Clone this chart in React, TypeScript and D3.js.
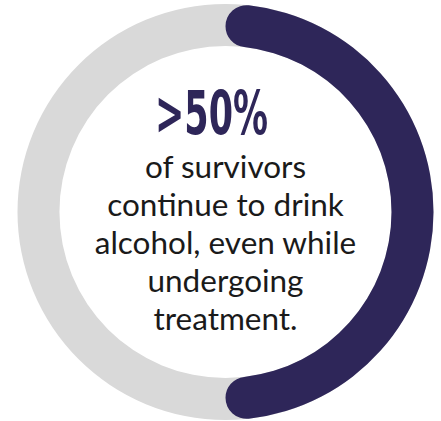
import React from "react";
import * as d3 from "d3";

const share = [0.5];
const headline = [">50%"];
const bodyLines = ["of survivors", "continue to drink", "alcohol, even while", "undergoing", "treatment."];

const W = 441;
const H = 421;

export default function App() {
  const cx = 225.5;
  const cy = 212;
  const outer = 208;
  const inner = 166;
  const angle = d3.scaleLinear().domain([0, 1]).range([0, 2 * Math.PI]);
  const bg = d3.arc<any>().innerRadius(inner).outerRadius(outer).startAngle(0).endAngle(2 * Math.PI)({} as any) as string;
  const fg = d3
    .arc<any>()
    .innerRadius(inner)
    .outerRadius(outer)
    .cornerRadius((outer - inner) / 2)
    .startAngle(angle(0))
    .endAngle(angle(share[0]))({} as any) as string;
  const lineY = d3.scaleLinear().domain([0, 1]).range([178, 216]);
  return (
    <svg width={W} height={H} style={{ position: "absolute", left: 0, top: 0 }}>
      <rect width={W} height={H} fill="#ffffff" />
      <g transform={`translate(${cx},${cy})`}>
        <path d={bg} fill="#d9d9d9" />
        <path d={fg} fill="#2e2659" />
      </g>
      <text
        x={cx - 14}
        y={134}
        textAnchor="middle"
        fontFamily="'DejaVu Sans Condensed', 'Liberation Sans Narrow', sans-serif"
        fontWeight="bold"
        fontSize={61}
        fill="#2e2659"
        textLength={113}
        lengthAdjust="spacingAndGlyphs"
      >
        {headline[0]}
      </text>
      {bodyLines.map((t, i) => (
        <text
          key={i}
          x={cx}
          y={lineY(i)}
          textAnchor="middle"
          fontFamily="Lato, sans-serif"
          fontSize={31.5}
          fill="#1a1a1a"
        >
          {t}
        </text>
      ))}
    </svg>
  );
}
